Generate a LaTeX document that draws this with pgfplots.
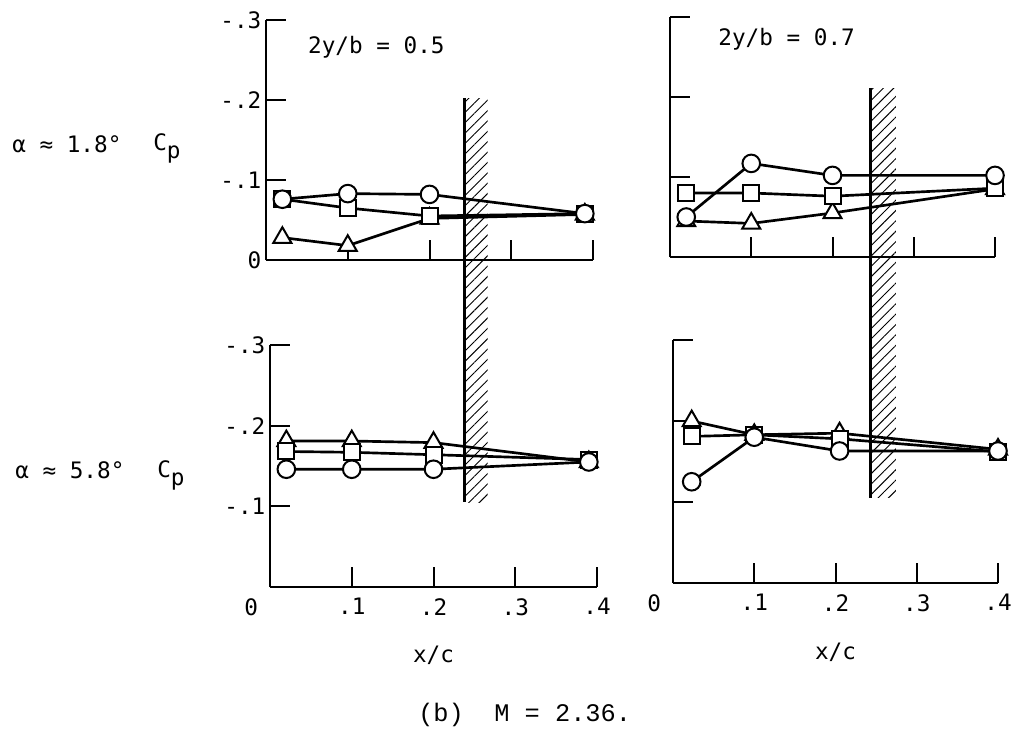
\documentclass[border=0pt]{standalone}
\usepackage{fontspec}
\setmainfont{DejaVu Sans Mono}
\newfontfamily\capfont{Liberation Mono}
\usepackage{pgfplots}
\pgfplotsset{compat=1.18}
\usetikzlibrary{patterns.meta}

% 1 px of the reference = 0.75pt
\pgfplotsset{
  cpaxis/.style={
    scale only axis,
    anchor=center,
    xmin=0, xmax=0.4, ymin=-0.3, ymax=0,
    y dir=reverse,
    axis x line*=bottom, axis y line*=left,
    axis line style={line width=2.2pt},
    tick align=inside,
    major tick length=15pt,
    every tick/.style={black, line width=1.5pt},
    xtick={0,0.1,0.2,0.3,0.4},
    ytick={-0.3,-0.2,-0.1,0},
    tick label style={font=\fontsize{17}{19}\selectfont},
    xticklabel style={yshift=-5pt},
    clip=false,
  },
}
\tikzset{
  circ/.style={black, line width=2pt, mark=*, mark size=6.6pt,
    mark options={fill=white, line width=1.5pt}},
  sq/.style={black, line width=2pt, mark=square*, mark size=6pt,
    mark options={fill=white, line width=1.5pt}},
  tri/.style={black, line width=2pt, mark=triangle*, mark size=7.8pt,
    mark options={fill=white, line width=1.5pt}},
  band/.style={pattern={Lines[angle=45,distance=5.5pt,line width=0.7pt]}},
}

\begin{document}
\begin{tikzpicture}
\useasboundingbox (0,0) rectangle (759.75pt,-549.75pt);

% top left: alpha 1.8, 2y/b = 0.5
\begin{axis}[cpaxis, at={(322.125pt,-105pt)}, width=245.25pt, height=180pt,
  xticklabels={}, yticklabels={-.3,-.2,-.1,0}]
  \addplot[tri] coordinates {(0.02,-0.028) (0.1,-0.018) (0.2,-0.052) (0.39,-0.057)};
  \addplot[sq] coordinates {(0.02,-0.076) (0.1,-0.065) (0.2,-0.055) (0.39,-0.058)};
  \addplot[circ] coordinates {(0.02,-0.076) (0.1,-0.083) (0.2,-0.082) (0.39,-0.058)};
  \node[anchor=west, inner sep=0] at (rel axis cs:0.128,0.8875)
    {\fontsize{17}{19}\selectfont 2y/b = 0.5};
  \fill[band] (axis cs:0.243,-0.2025) rectangle (axis cs:0.271,0.3025);
  \draw[line width=2pt] (axis cs:0.243,-0.2025) -- (axis cs:0.243,0.3025);
\end{axis}

% top right: alpha 1.8, 2y/b = 0.7
\begin{axis}[cpaxis, at={(624.375pt,-102.75pt)}, width=243.75pt, height=180pt,
  xticklabels={}, yticklabels={}]
  \addplot[tri] coordinates {(0.02,-0.045) (0.1,-0.042) (0.2,-0.055) (0.4,-0.085)};
  \addplot[sq] coordinates {(0.02,-0.080) (0.1,-0.080) (0.2,-0.076) (0.4,-0.086)};
  \addplot[circ] coordinates {(0.02,-0.050) (0.1,-0.117) (0.2,-0.102) (0.4,-0.102)};
  \node[anchor=west, inner sep=0] at (rel axis cs:0.148,0.908)
    {\fontsize{17}{19}\selectfont 2y/b = 0.7};
  \fill[band] (axis cs:0.247,-0.211) rectangle (axis cs:0.278,0.301);
  \draw[line width=2pt] (axis cs:0.247,-0.211) -- (axis cs:0.247,0.301);
\end{axis}

% bottom left: alpha 5.8, 2y/b = 0.5
\begin{axis}[cpaxis, at={(325.125pt,-349.5pt)}, width=245.25pt, height=181.5pt,
  xticklabels={\llap{0\kern9pt},.1,.2,.3,.4}, yticklabels={-.3,-.2,-.1,{}},
  xlabel={x/c}, xlabel style={at={(axis description cs:0.5,0)}, anchor=center, yshift=-51pt,
    font=\fontsize{17}{19}\selectfont}]
  \addplot[tri] coordinates {(0.02,-0.181) (0.1,-0.181) (0.2,-0.179) (0.39,-0.155)};
  \addplot[sq] coordinates {(0.02,-0.168) (0.1,-0.167) (0.2,-0.164) (0.39,-0.158)};
  \addplot[circ] coordinates {(0.02,-0.146) (0.1,-0.146) (0.2,-0.146) (0.39,-0.155)};
\end{axis}

% bottom right: alpha 5.8, 2y/b = 0.7
\begin{axis}[cpaxis, at={(626.625pt,-346.125pt)}, width=243.75pt, height=182.25pt,
  xticklabels={\llap{0\kern9pt},.1,.2,.3,.4}, yticklabels={},
  xlabel={x/c}, xlabel style={at={(axis description cs:0.5,0)}, anchor=center, yshift=-52pt,
    font=\fontsize{17}{19}\selectfont}]
  \addplot[tri] coordinates {(0.023,-0.200) (0.1,-0.183) (0.205,-0.185) (0.4,-0.165)};
  \addplot[sq] coordinates {(0.023,-0.181) (0.1,-0.183) (0.205,-0.178) (0.4,-0.162)};
  \addplot[circ] coordinates {(0.023,-0.125) (0.1,-0.180) (0.205,-0.163) (0.4,-0.163)};
\end{axis}

% row labels and caption
\begin{scope}[every node/.style={inner sep=0, font=\fontsize{17}{19}\selectfont}]
  \node[anchor=base west] at (9pt,-114pt) {α ≈ 1.8°};
  \node[anchor=base west] at (114.75pt,-112.5pt) {C\raisebox{-6pt}{p}};
  \node[anchor=base west] at (11.25pt,-358.5pt) {α ≈ 5.8°};
  \node[anchor=base west] at (117.75pt,-357.75pt) {C\raisebox{-6pt}{p}};
\end{scope}
\node[anchor=west, inner sep=0, font=\capfont\fontsize{19}{22}\selectfont]
  at (313.5pt,-536.25pt) {(b)\ \ M = 2.36.};
\end{tikzpicture}
\end{document}
